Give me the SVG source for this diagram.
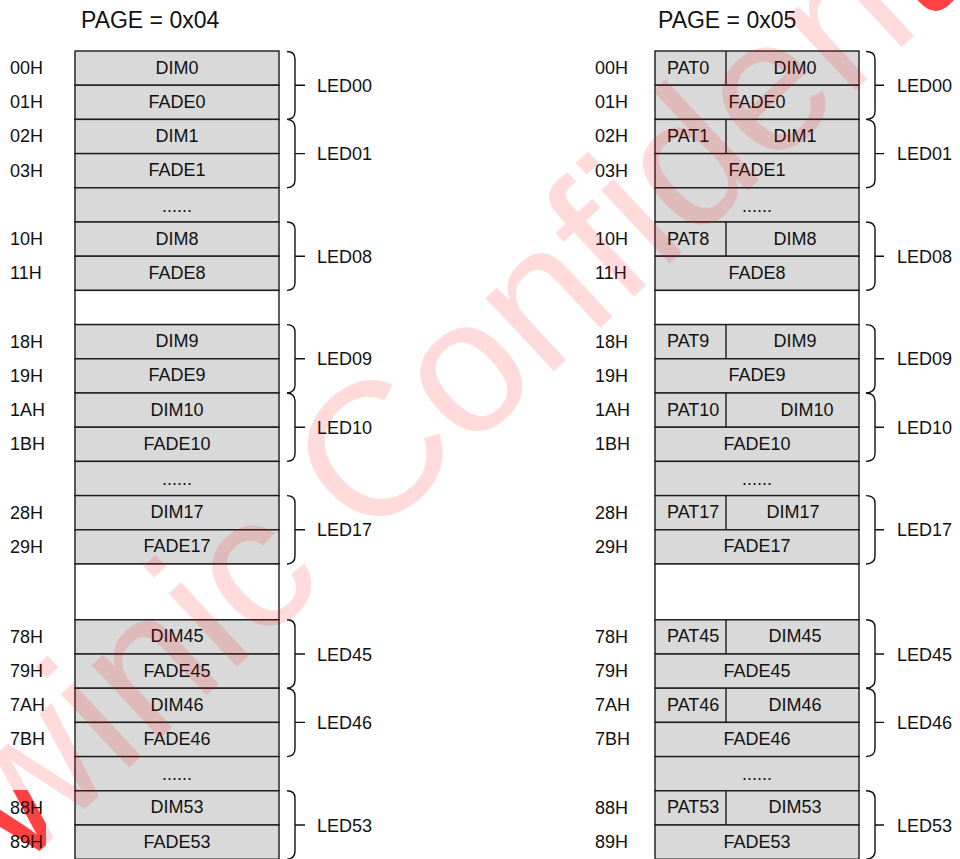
<svg xmlns="http://www.w3.org/2000/svg" xmlns:xlink="http://www.w3.org/1999/xlink" width="960" height="859" viewBox="0 0 960 859">
<style>
.bg{fill:#ffffff}
.cell{fill:#d9d9d9;stroke:#1a1a1a;stroke-width:1.4}
.blank{fill:#ffffff;stroke:#1a1a1a;stroke-width:1.4}
.div{stroke:#1a1a1a;stroke-width:1.4}
.t{font-family:"Liberation Sans",Arial,Helvetica,sans-serif;font-size:18px;fill:#111111}
.c{text-anchor:middle}
.title{font-family:"Liberation Sans",Arial,Helvetica,sans-serif;font-size:23px;fill:#111111}
.brace{fill:none;stroke:#111111;stroke-width:1.4}
.wm{font-family:"Liberation Sans",Arial,Helvetica,sans-serif;font-size:190px;fill:#ff0000}
</style>
<defs>
  <text id="wmtext" class="wm" transform="translate(-58,942) rotate(-43)">awinic Confidential</text>
  <clipPath id="corners">
    <rect x="0" y="790" width="46" height="69"/>
    <rect x="916" y="0" width="44" height="40"/>
  </clipPath>
</defs>
<rect class="bg" x="0" y="0" width="960" height="859"/>
<g id="watermark-edge" clip-path="url(#corners)"><use xlink:href="#wmtext" href="#wmtext" fill-opacity="0.7"/></g>

<text class="title" x="81" y="28">PAGE = 0x04</text>
<text class="title" x="658" y="28">PAGE = 0x05</text>

<!-- LEFT TABLE: PAGE 0x04 -->
<g id="left-table">
  <g id="L00"><rect class="cell" x="75" y="51" width="204" height="34.2"/><text class="t c" x="177" y="73.5">DIM0</text><text class="t" x="10" y="74">00H</text></g>
  <g id="L01"><rect class="cell" x="75" y="85.2" width="204" height="34.2"/><text class="t c" x="177" y="107.7">FADE0</text><text class="t" x="10" y="108.2">01H</text></g>
  <g id="L02"><rect class="cell" x="75" y="119.4" width="204" height="34.2"/><text class="t c" x="177" y="141.9">DIM1</text><text class="t" x="10" y="142.4">02H</text></g>
  <g id="L03"><rect class="cell" x="75" y="153.6" width="204" height="34.2"/><text class="t c" x="177" y="176.1">FADE1</text><text class="t" x="10" y="176.6">03H</text></g>
  <g id="L04"><rect class="cell" x="75" y="187.8" width="204" height="34.2"/><text class="t c" x="177" y="211.5">......</text></g>
  <g id="L10"><rect class="cell" x="75" y="222" width="204" height="34.2"/><text class="t c" x="177" y="244.5">DIM8</text><text class="t" x="10" y="245">10H</text></g>
  <g id="L11"><rect class="cell" x="75" y="256.2" width="204" height="34.2"/><text class="t c" x="177" y="278.7">FADE8</text><text class="t" x="10" y="279.2">11H</text></g>
  <g id="Lgap1"><rect class="blank" x="75" y="290.4" width="204" height="34.2"/></g>
  <g id="L18"><rect class="cell" x="75" y="324.6" width="204" height="34.2"/><text class="t c" x="177" y="347.1">DIM9</text><text class="t" x="10" y="347.6">18H</text></g>
  <g id="L19"><rect class="cell" x="75" y="358.8" width="204" height="34.2"/><text class="t c" x="177" y="381.3">FADE9</text><text class="t" x="10" y="381.8">19H</text></g>
  <g id="L1A"><rect class="cell" x="75" y="393" width="204" height="34.2"/><text class="t c" x="177" y="415.5">DIM10</text><text class="t" x="10" y="416">1AH</text></g>
  <g id="L1B"><rect class="cell" x="75" y="427.2" width="204" height="34.2"/><text class="t c" x="177" y="449.7">FADE10</text><text class="t" x="10" y="450.2">1BH</text></g>
  <g id="L1C"><rect class="cell" x="75" y="461.4" width="204" height="34.2"/><text class="t c" x="177" y="485.1">......</text></g>
  <g id="L28"><rect class="cell" x="75" y="495.6" width="204" height="34.2"/><text class="t c" x="177" y="518.1">DIM17</text><text class="t" x="10" y="518.6">28H</text></g>
  <g id="L29"><rect class="cell" x="75" y="529.8" width="204" height="34.2"/><text class="t c" x="177" y="552.3">FADE17</text><text class="t" x="10" y="552.8">29H</text></g>
  <g id="Lgap2"><rect class="blank" x="75" y="564" width="204" height="55.8"/></g>
  <g id="L78"><rect class="cell" x="75" y="619.8" width="204" height="34.2"/><text class="t c" x="177" y="642.3">DIM45</text><text class="t" x="10" y="642.8">78H</text></g>
  <g id="L79"><rect class="cell" x="75" y="654" width="204" height="34.2"/><text class="t c" x="177" y="676.5">FADE45</text><text class="t" x="10" y="677">79H</text></g>
  <g id="L7A"><rect class="cell" x="75" y="688.2" width="204" height="34.2"/><text class="t c" x="177" y="710.7">DIM46</text><text class="t" x="10" y="711.2">7AH</text></g>
  <g id="L7B"><rect class="cell" x="75" y="722.4" width="204" height="34.2"/><text class="t c" x="177" y="744.9">FADE46</text><text class="t" x="10" y="745.4">7BH</text></g>
  <g id="L7C"><rect class="cell" x="75" y="756.6" width="204" height="34.2"/><text class="t c" x="177" y="780.3">......</text></g>
  <g id="L88"><rect class="cell" x="75" y="790.8" width="204" height="34.2"/><text class="t c" x="177" y="813.3">DIM53</text><text class="t" x="10" y="813.8">88H</text></g>
  <g id="L89"><rect class="cell" x="75" y="825" width="204" height="34.2"/><text class="t c" x="177" y="847.5">FADE53</text><text class="t" x="10" y="848">89H</text></g>
</g>

<!-- RIGHT TABLE: PAGE 0x05 -->
<g id="right-table">
  <g id="R00"><rect class="cell" x="655" y="51" width="204" height="34.2"/><line class="div" x1="726" y1="51" x2="726" y2="85.2"/><text class="t" x="667" y="73.5">PAT0</text><text class="t c" x="795" y="73.5">DIM0</text><text class="t" x="595" y="74">00H</text></g>
  <g id="R01"><rect class="cell" x="655" y="85.2" width="204" height="34.2"/><text class="t c" x="757" y="107.7">FADE0</text><text class="t" x="595" y="108.2">01H</text></g>
  <g id="R02"><rect class="cell" x="655" y="119.4" width="204" height="34.2"/><line class="div" x1="726" y1="119.4" x2="726" y2="153.6"/><text class="t" x="667" y="141.9">PAT1</text><text class="t c" x="795" y="141.9">DIM1</text><text class="t" x="595" y="142.4">02H</text></g>
  <g id="R03"><rect class="cell" x="655" y="153.6" width="204" height="34.2"/><text class="t c" x="757" y="176.1">FADE1</text><text class="t" x="595" y="176.6">03H</text></g>
  <g id="R04"><rect class="cell" x="655" y="187.8" width="204" height="34.2"/><text class="t c" x="757" y="211.5">......</text></g>
  <g id="R10"><rect class="cell" x="655" y="222" width="204" height="34.2"/><line class="div" x1="726" y1="222" x2="726" y2="256.2"/><text class="t" x="667" y="244.5">PAT8</text><text class="t c" x="795" y="244.5">DIM8</text><text class="t" x="595" y="245">10H</text></g>
  <g id="R11"><rect class="cell" x="655" y="256.2" width="204" height="34.2"/><text class="t c" x="757" y="278.7">FADE8</text><text class="t" x="595" y="279.2">11H</text></g>
  <g id="Rgap1"><rect class="blank" x="655" y="290.4" width="204" height="34.2"/></g>
  <g id="R18"><rect class="cell" x="655" y="324.6" width="204" height="34.2"/><line class="div" x1="726" y1="324.6" x2="726" y2="358.8"/><text class="t" x="667" y="347.1">PAT9</text><text class="t c" x="795" y="347.1">DIM9</text><text class="t" x="595" y="347.6">18H</text></g>
  <g id="R19"><rect class="cell" x="655" y="358.8" width="204" height="34.2"/><text class="t c" x="757" y="381.3">FADE9</text><text class="t" x="595" y="381.8">19H</text></g>
  <g id="R1A"><rect class="cell" x="655" y="393" width="204" height="34.2"/><line class="div" x1="726" y1="393" x2="726" y2="427.2"/><text class="t" x="667" y="415.5">PAT10</text><text class="t c" x="807" y="415.5">DIM10</text><text class="t" x="595" y="416">1AH</text></g>
  <g id="R1B"><rect class="cell" x="655" y="427.2" width="204" height="34.2"/><text class="t c" x="757" y="449.7">FADE10</text><text class="t" x="595" y="450.2">1BH</text></g>
  <g id="R1C"><rect class="cell" x="655" y="461.4" width="204" height="34.2"/><text class="t c" x="757" y="485.1">......</text></g>
  <g id="R28"><rect class="cell" x="655" y="495.6" width="204" height="34.2"/><line class="div" x1="726" y1="495.6" x2="726" y2="529.8"/><text class="t" x="667" y="518.1">PAT17</text><text class="t c" x="793" y="518.1">DIM17</text><text class="t" x="595" y="518.6">28H</text></g>
  <g id="R29"><rect class="cell" x="655" y="529.8" width="204" height="34.2"/><text class="t c" x="757" y="552.3">FADE17</text><text class="t" x="595" y="552.8">29H</text></g>
  <g id="Rgap2"><rect class="blank" x="655" y="564" width="204" height="55.8"/></g>
  <g id="R78"><rect class="cell" x="655" y="619.8" width="204" height="34.2"/><line class="div" x1="726" y1="619.8" x2="726" y2="654"/><text class="t" x="667" y="642.3">PAT45</text><text class="t c" x="795" y="642.3">DIM45</text><text class="t" x="595" y="642.8">78H</text></g>
  <g id="R79"><rect class="cell" x="655" y="654" width="204" height="34.2"/><text class="t c" x="757" y="676.5">FADE45</text><text class="t" x="595" y="677">79H</text></g>
  <g id="R7A"><rect class="cell" x="655" y="688.2" width="204" height="34.2"/><line class="div" x1="726" y1="688.2" x2="726" y2="722.4"/><text class="t" x="667" y="710.7">PAT46</text><text class="t c" x="795" y="710.7">DIM46</text><text class="t" x="595" y="711.2">7AH</text></g>
  <g id="R7B"><rect class="cell" x="655" y="722.4" width="204" height="34.2"/><text class="t c" x="757" y="744.9">FADE46</text><text class="t" x="595" y="745.4">7BH</text></g>
  <g id="R7C"><rect class="cell" x="655" y="756.6" width="204" height="34.2"/><text class="t c" x="757" y="780.3">......</text></g>
  <g id="R88"><rect class="cell" x="655" y="790.8" width="204" height="34.2"/><line class="div" x1="726" y1="790.8" x2="726" y2="825"/><text class="t" x="667" y="813.3">PAT53</text><text class="t c" x="795" y="813.3">DIM53</text><text class="t" x="595" y="813.8">88H</text></g>
  <g id="R89"><rect class="cell" x="655" y="825" width="204" height="34.2"/><text class="t c" x="757" y="847.5">FADE53</text><text class="t" x="595" y="848">89H</text></g>
</g>

<!-- Braces (connectors) -->
<g id="connectors">
  <path class="brace" d="M287,51.5 Q295,51.5 295,59 V111.5 Q295,119 287,119.4 M295,85.2 H305"/>
  <path class="brace" d="M287,119.4 Q295,120 295,127.5 V180 Q295,187.5 287,187.8 M295,153.6 H305"/>
  <path class="brace" d="M287,222 Q295,222 295,229.5 V282.5 Q295,290 287,290.4 M295,256.2 H305"/>
  <path class="brace" d="M287,324.6 Q295,324.6 295,332 V385 Q295,392.6 287,393 M295,358.8 H305"/>
  <path class="brace" d="M287,393 Q295,393.6 295,401 V453.5 Q295,461 287,461.4 M295,427.2 H305"/>
  <path class="brace" d="M287,495.6 Q295,495.6 295,503 V556 Q295,563.6 287,564 M295,529.8 H305"/>
  <path class="brace" d="M287,619.8 Q295,619.8 295,627.3 V680 Q295,687.8 287,688.2 M295,654 H305"/>
  <path class="brace" d="M287,688.2 Q295,688.8 295,696 V748.5 Q295,756.2 287,756.6 M295,722.4 H305"/>
  <path class="brace" d="M287,790.8 Q295,790.8 295,798.3 V851 Q295,858.8 287,859.2 M295,825 H305"/>

  <path class="brace" d="M866,51.5 Q875,51.5 875,59 V111.5 Q875,119 866,119.4 M875,85.2 H884"/>
  <path class="brace" d="M866,119.4 Q875,120 875,127.5 V180 Q875,187.5 866,187.8 M875,153.6 H884"/>
  <path class="brace" d="M866,222 Q875,222 875,229.5 V282.5 Q875,290 866,290.4 M875,256.2 H884"/>
  <path class="brace" d="M866,324.6 Q875,324.6 875,332 V385 Q875,392.6 866,393 M875,358.8 H884"/>
  <path class="brace" d="M866,393 Q875,393.6 875,401 V453.5 Q875,461 866,461.4 M875,427.2 H884"/>
  <path class="brace" d="M866,495.6 Q875,495.6 875,503 V556 Q875,563.6 866,564 M875,529.8 H884"/>
  <path class="brace" d="M866,619.8 Q875,619.8 875,627.3 V680 Q875,687.8 866,688.2 M875,654 H884"/>
  <path class="brace" d="M866,688.2 Q875,688.8 875,696 V748.5 Q875,756.2 866,756.6 M875,722.4 H884"/>
  <path class="brace" d="M866,790.8 Q875,790.8 875,798.3 V851 Q875,858.8 866,859.2 M875,825 H884"/>
</g>

<g id="led-labels">
  <text class="t" x="317" y="91.7">LED00</text>
  <text class="t" x="317" y="160.1">LED01</text>
  <text class="t" x="317" y="262.7">LED08</text>
  <text class="t" x="317" y="365.3">LED09</text>
  <text class="t" x="317" y="433.7">LED10</text>
  <text class="t" x="317" y="536.3">LED17</text>
  <text class="t" x="317" y="660.5">LED45</text>
  <text class="t" x="317" y="728.9">LED46</text>
  <text class="t" x="317" y="831.5">LED53</text>

  <text class="t" x="897" y="91.7">LED00</text>
  <text class="t" x="897" y="160.1">LED01</text>
  <text class="t" x="897" y="262.7">LED08</text>
  <text class="t" x="897" y="365.3">LED09</text>
  <text class="t" x="897" y="433.7">LED10</text>
  <text class="t" x="897" y="536.3">LED17</text>
  <text class="t" x="897" y="660.5">LED45</text>
  <text class="t" x="897" y="728.9">LED46</text>
  <text class="t" x="897" y="831.5">LED53</text>
</g>

<g id="watermark"><use xlink:href="#wmtext" href="#wmtext" fill-opacity="0.14"/></g>
</svg>
